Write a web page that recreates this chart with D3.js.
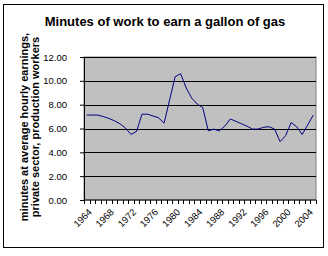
<!DOCTYPE html>
<html>
<head>
<script src="https://cdn.jsdelivr.net/npm/d3@7"></script>
<style>
  body { margin: 0; background: #fff; }
  text { font-family: Arial, "Liberation Sans", sans-serif; }
</style>
</head>
<body>
<div id="chart"></div>
<script>
// years 1964..2005 and minutes of work per gallon
var years = d3.range(1964, 2006);
var minutes = [7.13, 7.13, 7.13, 7.0, 6.85, 6.65, 6.4, 6.05, 5.5, 5.75,
               7.2, 7.2, 7.05, 6.9, 6.45, 8.4, 10.35, 10.6, 9.4, 8.55,
               8.05, 7.75, 5.8, 5.95, 5.8, 6.2, 6.8, 6.6, 6.4, 6.2,
               5.95, 5.95, 6.1, 6.15, 5.95, 4.9, 5.4, 6.5, 6.15, 5.5,
               6.3, 7.13];
var yTicks = [0, 2, 4, 6, 8, 10, 12];
var xLabelYears = d3.range(1964, 2005, 4);

var W = 328, H = 256;
var margin = {top: 57, right: 12, bottom: 56, left: 84},
    width = 316 - margin.left,
    height = 200 - margin.top;

var svg = d3.select("#chart").append("svg")
    .attr("width", W)
    .attr("height", H);

// chart border
svg.append("rect")
    .attr("x", 3.5).attr("y", 4.5)
    .attr("width", 320).attr("height", 243)
    .attr("fill", "#fff").attr("stroke", "#000");

svg.append("text")
    .attr("x", 165).attr("y", 26)
    .attr("text-anchor", "middle")
    .style("font-size", "13px").style("font-weight", "bold")
    .text("Minutes of work to earn a gallon of gas");

var g = svg.append("g")
    .attr("transform", "translate(" + margin.left + "," + margin.top + ")");

var x = d3.scaleBand().domain(years).range([0, width]);
var y = d3.scaleLinear().domain([0, 12]).range([height, 0]);

g.append("rect")
    .attr("width", width).attr("height", height)
    .attr("fill", "#c0c0c0").attr("stroke", "#808080");

// gridlines
g.selectAll(".grid").data(yTicks.slice(1))
  .enter().append("line")
    .attr("x1", 0).attr("x2", width)
    .attr("y1", function(d) { return Math.round(y(d)) + 0.5; })
    .attr("y2", function(d) { return Math.round(y(d)) + 0.5; })
    .attr("stroke", "#000");

// y axis
var yAxis = g.append("g")
    .call(d3.axisLeft(y).tickValues(yTicks).tickFormat(d3.format(".2f")).tickSize(4).tickPadding(13));
yAxis.selectAll("text").style("font-size", "9.5px").attr("fill", "#000");
yAxis.select(".domain").attr("stroke", "#000");

// x axis: ticks between categories
var xAxis = g.append("g").attr("transform", "translate(0," + height + ")");
xAxis.append("line").attr("x1", 0).attr("x2", width).attr("stroke", "#000");
xAxis.selectAll(".tk").data(years.concat([2006]))
  .enter().append("line")
    .attr("x1", function(d) { return Math.round(d === 2006 ? width : x(d)) + 0.5; })
    .attr("x2", function(d) { return Math.round(d === 2006 ? width : x(d)) + 0.5; })
    .attr("y1", 0).attr("y2", 4)
    .attr("stroke", "#000");
xAxis.selectAll(".lbl").data(xLabelYears)
  .enter().append("text")
    .attr("transform", function(d) {
      return "translate(" + (x(d) + x.bandwidth() / 2 + 1) + ",8) rotate(-45)";
    })
    .attr("text-anchor", "end")
    .attr("dy", "0.7em")
    .style("font-size", "9.5px")
    .text(function(d) { return d; });

// line
var line = d3.line()
    .x(function(d, i) { return x(years[i]) + x.bandwidth() / 2; })
    .y(function(d) { return y(d); });
g.append("path")
    .datum(minutes)
    .attr("d", line)
    .attr("fill", "none")
    .attr("stroke", "#000080")
    .attr("stroke-width", 1);

// y axis title
var yt = svg.append("text")
    .attr("transform", "translate(28,127) rotate(-90)")
    .attr("text-anchor", "middle")
    .style("font-size", "11px").style("font-weight", "bold");
yt.append("tspan").attr("x", 0).attr("dy", 0).text("minutes at average hourly earnings,");
yt.append("tspan").attr("x", 0).attr("dy", "1.0em").text("private sector, production workers");
</script>
</body>
</html>
